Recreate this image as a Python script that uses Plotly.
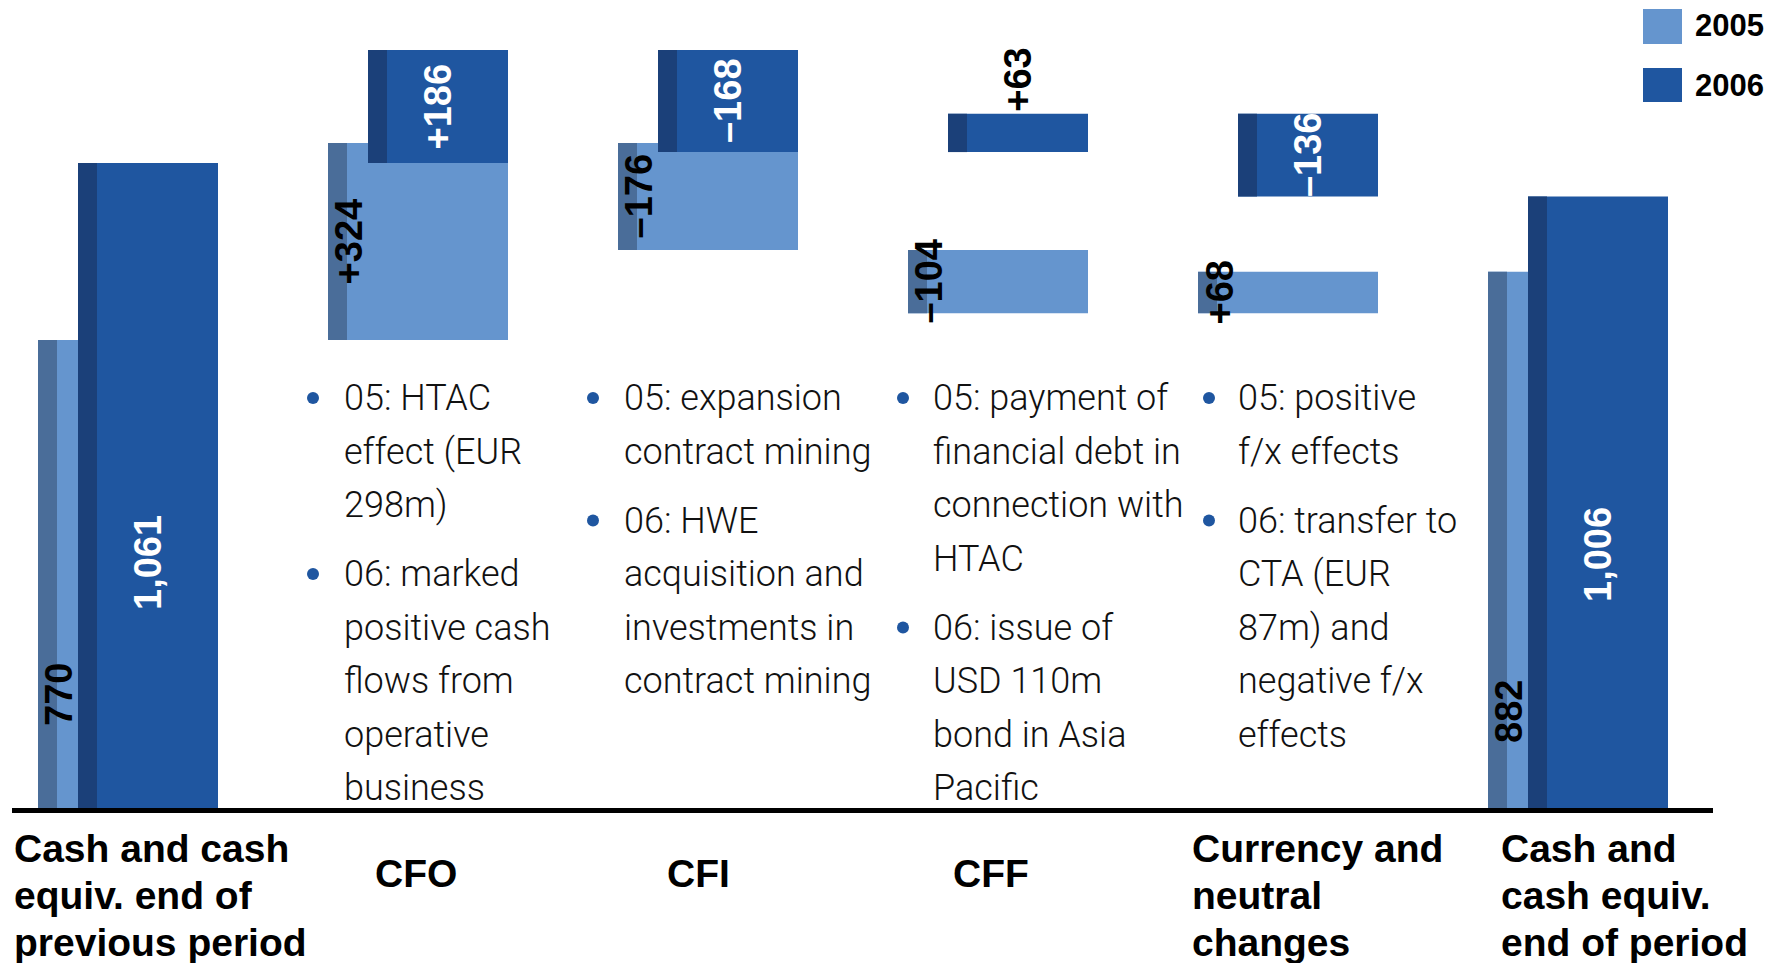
import plotly.graph_objects as go

# ---------------- data ----------------
categories = ["Cash and cash equiv. end of previous period", "CFO", "CFI", "CFF",
              "Currency and neutral changes", "Cash and cash equiv. end of period"]
category_lines = [["Cash and cash", "equiv. end of", "previous period"], ["CFO"], ["CFI"], ["CFF"],
                  ["Currency and", "neutral", "changes"], ["Cash and", "cash equiv.", "end of period"]]
is_total = [True, False, False, False, False, True]
values_2005 = [770, 324, -176, -104, 68, 882]
values_2006 = [1061, 186, -168, 63, -136, 1006]
series_names = ["2005", "2006"]

bullet_texts = [
    [["05: HTAC", "effect (EUR", "298m)"],
     ["06: marked", "positive cash", "flows from", "operative", "business"]],
    [["05: expansion", "contract mining"],
     ["06: HWE", "acquisition and", "investments in", "contract mining"]],
    [["05: payment of", "financial debt in", "connection with", "HTAC"],
     ["06: issue of", "USD 110m", "bond in Asia", "Pacific"]],
    [["05: positive", "f/x effects"],
     ["06: transfer to", "CTA (EUR", "87m) and", "negative f/x", "effects"]],
]

# ---------------- layout constants (page pixels) ----------------
PAGE_W, PAGE_H = 1784, 963
BODY = 8                              # default page margin around the figure
W, H = PAGE_W - BODY, PAGE_H - BODY   # figure size
PLOT_TOP, PLOT_BOTTOM = 20, 808       # page y of plot area top / zero line
SCALE = 0.6079                        # px per EUR m
SLOT = 290                            # px per category
X0PIX = 131                           # page x of category index 0
RIGHT = 0.3                           # right edge of bar group relative to category index

C05, C05_STRIP = "#6595CE", "#4A6D99"
C06, C06_STRIP = "#1F56A0", "#1B4079"
STRIP = 19
FONT = "Liberation Sans, Arial, sans-serif"
LIGHT_FONT = "Roboto, Liberation Sans, Arial, sans-serif"

PT, PB = PLOT_TOP - BODY, PLOT_BOTTOM - BODY   # figure coords


def waterfall(vals):
    run, bases, heights, tops = 0, [], [], []
    for v, t in zip(vals, is_total):
        if t:
            bases.append(0); heights.append(v); run = v
        else:
            bases.append(run if v >= 0 else run + v); heights.append(abs(v)); run += v
        tops.append(bases[-1] + heights[-1])
    return bases, heights, tops


def fmt(v, total):
    if total:
        return f"{v:,}"
    return ("+" if v >= 0 else "\u2013") + str(abs(v))


def px_x(p):
    return (p - BODY) / W


def px_y(p):
    return (PB - (p - BODY)) / (PB - PT)


xs = list(range(len(categories)))
fig = go.Figure()

geo = {
    "2005": dict(left=180, widths=[41 if t else 180 for t in is_total], main=C05, strip=C05_STRIP),
    "2006": dict(left=140, widths=[140 for _ in is_total], main=C06, strip=C06_STRIP),
}

for name, vals in zip(series_names, [values_2005, values_2006]):
    g = geo[name]
    bases, heights, tops = waterfall(vals)
    off = RIGHT - g["left"] / SLOT
    fig.add_trace(go.Bar(x=xs, y=heights, base=bases, name=name,
                         offset=[off] * len(xs), width=[w / SLOT for w in g["widths"]],
                         marker=dict(color=g["main"], line=dict(width=0)), hoverinfo="skip"))
    fig.add_trace(go.Bar(x=xs, y=heights, base=bases, name=name, showlegend=False,
                         offset=[off] * len(xs), width=[STRIP / SLOT] * len(xs),
                         marker=dict(color=g["strip"], line=dict(width=0)), hoverinfo="skip"))

# ---------------- data labels ----------------
LABEL_FS = 38
total_label_py = {"2005": [695, 712], "2006": [563, 555]}
for name, vals in zip(series_names, [values_2005, values_2006]):
    g = geo[name]
    bases, heights, tops = waterfall(vals)
    ti = 0
    for i, (v, t) in enumerate(zip(vals, is_total)):
        txt = fmt(v, t)
        if name == "2005":
            x = i + RIGHT - g["left"] / SLOT + 21 / SLOT
            color = "black"
        else:
            x = i + RIGHT - g["left"] / SLOT + 70 / SLOT
            color = "white"
        ann = dict(x=x, xref="x", text="<b>" + txt + "</b>", textangle=-90, showarrow=False,
                   font=dict(family=FONT, size=LABEL_FS, color=color), xanchor="center")
        if t:
            ann.update(y=px_y(total_label_py[name][ti]), yref="paper", yanchor="middle")
            ti += 1
        elif name == "2006" and heights[i] * SCALE < 50:
            ann.update(y=tops[i], yref="y", yanchor="bottom",
                       font=dict(family=FONT, size=LABEL_FS, color="black"))
        else:
            ann.update(y=bases[i] + heights[i] / 2, yref="y", yanchor="middle")
        fig.add_annotation(**ann)

# ---------------- baseline ----------------
fig.add_shape(type="line", xref="paper", yref="paper", x0=px_x(12), x1=px_x(1713),
              y0=px_y(810.5), y1=px_y(810.5), line=dict(color="black", width=5))

# ---------------- category labels ----------------
CAT_FS = 39
cat_left = {0: 12, 4: 1190, 5: 1499}
cat_center = {1: 416, 2: 698, 3: 991}
for i, lines in enumerate(category_lines):
    if i in cat_left:
        for k, ln in enumerate(lines):
            fig.add_annotation(x=px_x(cat_left[i]), y=px_y(848 + 47 * k), xref="paper", yref="paper",
                               text="<b>" + ln + "</b>", showarrow=False, xanchor="left", yanchor="middle",
                               font=dict(family=FONT, size=CAT_FS, color="black"))
    else:
        fig.add_annotation(x=px_x(cat_center[i]), y=px_y(873), xref="paper", yref="paper",
                           text="<b>" + lines[0] + "</b>", showarrow=False, xanchor="center", yanchor="middle",
                           font=dict(family=FONT, size=CAT_FS, color="black"))

# ---------------- bullet comments ----------------
BUL_FS = 36
LINE = 53.5
PARA = 69
bullet_x = [(313, 342), (593, 622), (903, 931), (1209, 1236)]
for (dx, tx), paras in zip(bullet_x, bullet_texts):
    y = 398
    for p, para in enumerate(paras):
        if p > 0:
            y += PARA - LINE
        fig.add_shape(type="circle", xref="paper", yref="paper",
                      x0=px_x(dx - 6), x1=px_x(dx + 6), y0=px_y(y + 6), y1=px_y(y - 6),
                      fillcolor=C06, line=dict(width=0))
        for ln in para:
            fig.add_annotation(x=px_x(tx), y=px_y(y), xref="paper", yref="paper", text=ln,
                               showarrow=False, xanchor="left", yanchor="middle",
                               font=dict(family=LIGHT_FONT, size=BUL_FS, color="#111111", weight=300))
            y += LINE

# ---------------- legend ----------------
legend_items = [("2005", C05, 9, 44, 26), ("2006", C06, 68, 102, 85)]
for name, col, y0, y1, yc in legend_items:
    fig.add_shape(type="rect", xref="paper", yref="paper", x0=px_x(1643), x1=px_x(1682),
                  y0=px_y(y1), y1=px_y(y0), fillcolor=col, line=dict(width=0))
    fig.add_annotation(x=px_x(1693), y=px_y(yc), xref="paper", yref="paper", text="<b>" + name + "</b>",
                       showarrow=False, xanchor="left", yanchor="middle",
                       font=dict(family=FONT, size=31, color="black"))

fig.update_layout(
    width=W, height=H, barmode="overlay", showlegend=False,
    margin=dict(l=0, r=0, t=PT, b=H - PB, pad=0),
    paper_bgcolor="white", plot_bgcolor="white",
    xaxis=dict(visible=False, range=[-(X0PIX - BODY) / SLOT, (W - (X0PIX - BODY)) / SLOT]),
    yaxis=dict(visible=False, range=[0, (PB - PT) / SCALE]),
)
fig.write_html("out.html")
